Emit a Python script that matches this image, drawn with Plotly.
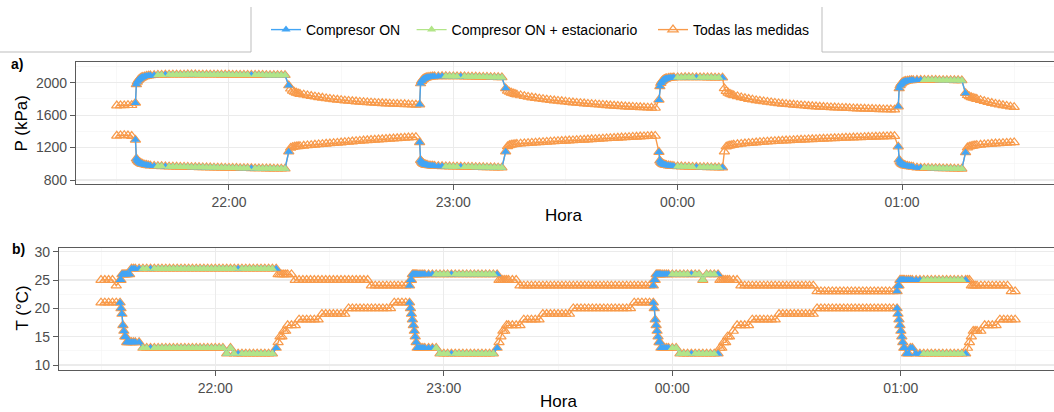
import plotly.graph_objects as go
from datetime import datetime, timedelta

# ---------------- data (minutes after 21:30) ----------------
minutos = [
    0, 1, 2, 3, 4,
    5, 5.25, 5.5, 5.75, 6, 6.25, 6.5, 6.75, 7, 7.5, 8, 8.5, 9,
    10, 11, 12, 13, 14, 15, 16, 17, 18, 19,
    20, 21, 22, 23, 24, 25, 26, 27, 28, 29,
    30, 31, 32, 33, 34, 35, 36, 37, 38, 39,
    40, 41, 42, 43, 44, 45, 46,
    46.5, 47, 47.5, 48, 48.5, 49,
    50, 51, 52, 53, 54, 55, 56, 57, 58, 59,
    60, 61, 62, 63, 64, 65, 66, 67, 68, 69,
    70, 71, 72, 73, 74, 75, 76, 77, 78, 79,
    80,
    81, 81.25, 81.5, 81.75, 82, 82.25, 82.5, 82.75, 83, 83.5, 84, 84.5, 85,
    86, 87, 88, 89, 90, 91, 92, 93, 94, 95,
    96, 97, 98, 99, 100, 101, 102, 103, 104,
    104.5, 105, 105.5, 106, 106.5, 107,
    108, 109, 110, 111, 112, 113, 114, 115, 116, 117,
    118, 119, 120, 121, 122, 123, 124, 125, 126, 127,
    128, 129, 130, 131, 132, 133, 134, 135, 136, 137,
    138, 139, 140, 141, 142, 143, 144,
    145, 145.25, 145.5, 145.75, 146, 146.25, 146.5, 146.75, 147, 147.5, 148, 148.5, 149,
    150, 151, 152, 153, 154, 155, 156, 157, 158, 159, 160, 161, 162,
    162.5, 163, 163.5, 164, 164.5, 165,
    166, 167, 168, 169, 170, 171, 172, 173, 174, 175,
    176, 177, 178, 179, 180, 181, 182, 183, 184, 185,
    186, 187, 188, 189, 190, 191, 192, 193, 194, 195,
    196, 197, 198, 199, 200, 201, 202, 203, 204, 205,
    206, 207, 208,
    209, 209.25, 209.5, 209.75, 210, 210.25, 210.5, 210.75, 211, 211.5, 212, 212.5, 213,
    214, 215, 216, 217, 218, 219, 220, 221, 222, 223, 224, 225, 226, 227,
    227.5, 228, 228.5, 229, 229.5, 230,
    231, 232, 233, 234, 235, 236, 237, 238, 239, 240,
]

p_alta = [
    1718, 1720, 1720, 1722, 1722,
    1750, 1980, 2010, 2030, 2043, 2053, 2060, 2066, 2071, 2078, 2083, 2087, 2090,
    2093, 2095, 2096, 2097, 2098, 2098, 2099, 2099, 2099, 2100,
    2100, 2100, 2099, 2099, 2099, 2098, 2098, 2098, 2097, 2097,
    2097, 2096, 2096, 2096, 2095, 2095, 2095, 2094, 2094, 2094,
    2093, 2093, 2093, 2092, 2092, 2092, 1965,
    1925, 1900, 1885, 1875, 1867, 1860,
    1852, 1843, 1835, 1827, 1820, 1813, 1806, 1800, 1794, 1789,
    1784, 1779, 1775, 1771, 1767, 1763, 1760, 1757, 1754, 1751,
    1748, 1746, 1743, 1741, 1739, 1737, 1735, 1733, 1731, 1729,
    1727,
    1730, 1990, 2020, 2035, 2045, 2052, 2058, 2062, 2066, 2070, 2073, 2075, 2077,
    2078, 2079, 2079, 2078, 2078, 2077, 2076, 2075, 2074, 2073,
    2072, 2071, 2070, 2069, 2068, 2067, 2066, 2065, 1930,
    1900, 1885, 1875, 1867, 1860, 1853,
    1842, 1833, 1825, 1817, 1810, 1803, 1797, 1791, 1785, 1780,
    1775, 1770, 1765, 1760, 1755, 1751, 1747, 1743, 1739, 1735,
    1732, 1728, 1725, 1721, 1718, 1715, 1712, 1709, 1706, 1703,
    1701, 1698, 1696, 1694, 1692, 1690, 1688,
    1787, 1955, 1995, 2015, 2028, 2037, 2043, 2048, 2052, 2057, 2060, 2062, 2064,
    2065, 2065, 2066, 2066, 2065, 2065, 2064, 2064, 2063, 2063, 2062, 2062, 2061,
    1930, 1895, 1875, 1862, 1852, 1843,
    1830, 1818, 1808, 1798, 1790, 1782, 1775, 1768, 1762, 1756,
    1750, 1745, 1740, 1735, 1731, 1727, 1723, 1719, 1716, 1712,
    1709, 1706, 1703, 1700, 1698, 1695, 1693, 1691, 1689, 1687,
    1685, 1683, 1681, 1679, 1678, 1676, 1675, 1673, 1672, 1671,
    1670, 1669, 1668,
    1705, 1930, 1965, 1985, 1998, 2006, 2012, 2016, 2020, 2024, 2027, 2029, 2031,
    2032, 2033, 2033, 2033, 2032, 2032, 2031, 2031, 2030, 2030, 2029, 2029, 2028, 1870,
    1845, 1830, 1820, 1812, 1805, 1798,
    1785, 1772, 1760, 1749, 1739, 1730, 1721, 1713, 1705, 1698,
]

p_baja = [
    1345, 1350, 1352, 1348, 1342,
    1295, 1065, 1045, 1030, 1020, 1012, 1005, 1000, 995, 989, 984, 980, 977,
    974, 971, 969, 967, 965, 964, 963, 962, 961, 960,
    959, 958, 957, 956, 955, 954, 953, 952, 951, 950,
    949, 948, 947, 946, 946, 945, 944, 943, 943, 942,
    941, 941, 940, 940, 939, 939, 1150,
    1195, 1205, 1210, 1213, 1216, 1218,
    1222, 1226, 1230, 1234, 1238, 1242, 1246, 1250, 1254, 1258,
    1262, 1266, 1270, 1274, 1278, 1282, 1286, 1290, 1293, 1296,
    1299, 1302, 1305, 1308, 1311, 1314, 1317, 1320, 1323, 1326,
    1329,
    1265, 1045, 1025, 1012, 1003, 996, 991, 987, 984, 980, 977, 975, 973,
    971, 969, 968, 966, 965, 964, 963, 962, 961, 960,
    959, 958, 957, 956, 955, 954, 953, 952, 1150,
    1215, 1228, 1234, 1238, 1241, 1244,
    1248, 1251, 1254, 1257, 1260, 1263, 1266, 1269, 1272, 1275,
    1278, 1280, 1283, 1286, 1288, 1291, 1294, 1296, 1299, 1302,
    1304, 1307, 1309, 1312, 1315, 1317, 1320, 1323, 1325, 1328,
    1331, 1333, 1336, 1338, 1340, 1342, 1344,
    1145, 1040, 1020, 1008, 1000, 994, 989, 985, 982, 978, 975, 972, 970,
    968, 966, 964, 963, 962, 960, 959, 958, 957, 956, 955, 954, 953,
    1150, 1212, 1220, 1225, 1229, 1234,
    1240, 1245, 1250, 1254, 1258, 1262, 1266, 1269, 1272, 1275,
    1278, 1281, 1284, 1286, 1289, 1291, 1294, 1296, 1298, 1300,
    1302, 1304, 1306, 1308, 1310, 1312, 1314, 1316, 1318, 1320,
    1321, 1323, 1325, 1326, 1328, 1330, 1331, 1333, 1334, 1336,
    1337, 1339, 1340,
    1212, 1050, 1025, 1010, 1000, 992, 986, 981, 977, 972, 968, 965, 962,
    952, 950, 948, 947, 946, 945, 944, 943, 942, 941, 940, 939, 938, 1140,
    1200, 1212, 1218, 1222, 1226, 1229,
    1234, 1238, 1242, 1246, 1249, 1252, 1255, 1258, 1261, 1264,
]

t_alta = [
    25, 25, 25, 25, 24,
    25, 25, 26, 26, 26, 26, 26, 26, 26, 26, 27, 27, 27,
    27, 27, 27, 27, 27, 27, 27, 27, 27, 27,
    27, 27, 27, 27, 27, 27, 27, 27, 27, 27,
    27, 27, 27, 27, 27, 27, 27, 27, 27, 27,
    27, 27, 27, 27, 27, 27, 27,
    26, 26, 26, 26, 26, 26,
    26, 25, 25, 25, 25, 25, 25, 25, 25, 25,
    25, 25, 25, 25, 25, 25, 25, 25, 25, 25,
    25, 24, 24, 24, 24, 24, 24, 24, 24, 24,
    24,
    24, 25, 25, 26, 26, 26, 26, 26, 26, 26, 26, 26, 26,
    26, 26, 26, 26, 26, 26, 26, 26, 26, 26,
    26, 26, 26, 26, 26, 26, 26, 26, 26,
    25, 25, 25, 25, 25, 25,
    25, 25, 24, 24, 24, 24, 24, 24, 24, 24,
    24, 24, 24, 24, 24, 24, 24, 24, 24, 24,
    24, 24, 24, 24, 24, 24, 24, 24, 24, 24,
    24, 24, 24, 24, 24, 24, 24,
    24, 25, 25, 26, 26, 26, 26, 26, 26, 26, 26, 26, 26,
    26, 26, 26, 26, 26, 26, 26, 26, 25, 26, 26, 26, 26,
    25, 25, 25, 25, 25, 25,
    25, 25, 24, 24, 24, 24, 24, 24, 24, 24,
    24, 24, 24, 24, 24, 24, 24, 24, 24, 24,
    24, 24, 23, 23, 23, 23, 23, 23, 23, 23,
    23, 23, 23, 23, 23, 23, 23, 23, 23, 23,
    23, 23, 23,
    23, 24, 24, 25, 25, 25, 25, 25, 25, 25, 25, 25, 25,
    25, 25, 25, 25, 25, 25, 25, 25, 25, 25, 25, 25, 25, 25,
    25, 25, 24, 24, 24, 24,
    24, 24, 24, 24, 24, 24, 24, 24, 23, 23,
]

t_baja = [
    21, 21, 21, 21, 21,
    21, 20, 19, 17, 16, 15, 15, 14, 14, 14, 14, 14, 14,
    14, 13, 13, 13, 13, 13, 13, 13, 13, 13,
    13, 13, 13, 13, 13, 13, 13, 13, 13, 13,
    13, 13, 13, 12, 13, 12, 12, 12, 12, 12,
    12, 12, 12, 12, 12, 12, 13,
    14, 15, 15, 16, 16, 17,
    17, 17, 18, 18, 18, 18, 18, 18, 19, 19,
    19, 19, 19, 19, 19, 20, 20, 20, 20, 20,
    20, 20, 20, 20, 20, 20, 20, 21, 21, 21,
    21,
    21, 20, 19, 18, 17, 16, 15, 14, 13, 13, 13, 13, 13,
    13, 13, 13, 12, 12, 12, 12, 12, 12, 12,
    12, 12, 12, 12, 12, 12, 12, 12, 13,
    14, 15, 16, 16, 17, 17,
    17, 17, 17, 18, 18, 18, 18, 18, 19, 19,
    19, 19, 19, 19, 19, 19, 20, 20, 20, 20,
    20, 20, 20, 20, 20, 20, 20, 20, 20, 20,
    20, 20, 21, 21, 21, 21, 21,
    21, 20, 18, 17, 16, 15, 14, 14, 13, 13, 13, 13, 13,
    13, 13, 12, 12, 12, 12, 12, 12, 12, 12, 12, 12, 12,
    13, 13, 14, 14, 15, 15,
    16, 17, 17, 17, 17, 18, 18, 18, 18, 18,
    18, 18, 19, 19, 19, 19, 19, 19, 19, 19,
    19, 19, 20, 20, 20, 20, 20, 20, 20, 20,
    20, 20, 20, 20, 20, 20, 20, 20, 20, 20,
    20, 20, 20,
    20, 19, 18, 17, 16, 15, 14, 13, 13, 12, 12, 13, 13,
    12, 12, 12, 12, 12, 12, 12, 12, 12, 12, 12, 12, 12, 12,
    13, 14, 15, 16, 16, 16,
    16, 17, 17, 17, 17, 18, 18, 18, 18, 18,
]

# compressor ON periods and steady-state periods (minutes after 21:30)
periodos_on = [(5, 46), (81, 104), (145, 162), (209, 227)]
periodos_est = [(11, 45), (88, 103), (150, 161), (216, 226)]
no_estacionario = [13, 36, 92, 155]

etiquetas_hora = ["22:00", "23:00", "00:00", "01:00"]
minutos_hora = [30, 90, 150, 210]
minutos_media_hora = [0, 60, 120, 180, 240]

n = len(minutos)
assert all(len(s) == n for s in (p_alta, p_baja, t_alta, t_baja)), \
    [len(s) for s in (minutos, p_alta, p_baja, t_alta, t_baja)]

inicio = datetime(2021, 3, 1, 21, 30)
def hhmm(m):
    return inicio + timedelta(minutes=m)

hora = [hhmm(m) for m in minutos]

def dentro(periodos, m):
    return any(a <= m <= b for a, b in periodos)

on = [dentro(periodos_on, m) for m in minutos]
est = [dentro(periodos_est, m) and m not in no_estacionario for m in minutos]

def filtra(vals, flags):
    return [v if f else None for v, f in zip(vals, flags)]

AZUL = "#42A5F5"
VERDE = "#B2E588"
NARANJA = "#F89A4A"
FONT = "Liberation Sans, Arial, sans-serif"
MS = 8

fig = go.Figure()

def add_series(y_vals, xa, ya, showleg):
    fig.add_trace(go.Scatter(
        x=hora, y=y_vals, mode="lines+markers", xaxis=xa, yaxis=ya,
        name="Todas las medidas", legendgroup="todas", legend="legend3",
        showlegend=showleg,
        line=dict(color=NARANJA, width=1.4),
        marker=dict(symbol="triangle-up-open", size=MS + 1, color=NARANJA,
                    line=dict(width=1.2, color=NARANJA))))
    fig.add_trace(go.Scatter(
        x=hora, y=filtra(y_vals, on), mode="lines+markers", xaxis=xa, yaxis=ya,
        name="Compresor ON", legendgroup="on", legend="legend",
        showlegend=showleg, connectgaps=False,
        line=dict(color=AZUL, width=1.4),
        marker=dict(symbol="triangle-up", size=MS, color=AZUL)))
    fig.add_trace(go.Scatter(
        x=hora, y=filtra(y_vals, est), mode="lines+markers", xaxis=xa, yaxis=ya,
        name="Compresor ON + estacionario", legendgroup="est", legend="legend2",
        showlegend=showleg, connectgaps=False,
        line=dict(color=VERDE, width=1.4),
        marker=dict(symbol="triangle-up", size=MS, color=VERDE)))

add_series(p_alta, "x", "y", True)
add_series(p_baja, "x", "y", False)
add_series(t_alta, "x2", "y2", False)
add_series(t_baja, "x2", "y2", False)

W, H = 1054, 412
def px(x):
    return x / W
def py(y):
    return 1 - y / H

GRID = "#EBEBEB"
GRID_MINOR = "#F4F4F4"
LINE = "#5A5A5A"
TICKC = "#4D4D4D"

def xaxis_cfg(dom, r0, r1):
    return dict(
        domain=dom, type="date",
        range=[hhmm(r0), hhmm(r1)],
        tickmode="array", tickvals=[hhmm(m) for m in minutos_hora],
        ticktext=etiquetas_hora,
        showgrid=True, gridcolor=GRID, gridwidth=1.1,
        minor=dict(tickmode="array", tickvals=[hhmm(m) for m in minutos_media_hora],
                   showgrid=True, gridcolor=GRID_MINOR, gridwidth=0.6, ticklen=0),
        showline=True, mirror=True, linecolor=LINE, linewidth=1.1,
        ticks="outside", ticklen=5, tickcolor=LINE, tickwidth=1,
        tickfont=dict(family=FONT, size=14, color=TICKC),
        zeroline=False, fixedrange=True, automargin=False,
    )

def yaxis_cfg(dom, rng, major, minor):
    return dict(
        domain=dom, range=rng,
        tickmode="array", tickvals=major, ticktext=[str(v) for v in major],
        showgrid=True, gridcolor=GRID, gridwidth=1.1,
        minor=dict(tickmode="array", tickvals=minor, showgrid=True,
                   gridcolor=GRID_MINOR, gridwidth=0.6, ticklen=0),
        showline=True, mirror=False, linecolor=LINE, linewidth=1.1,
        ticks="outside", ticklen=5, tickcolor=LINE, tickwidth=1,
        tickfont=dict(family=FONT, size=14, color=TICKC),
        zeroline=False, fixedrange=True, automargin=False,
    )

p_ticks = [800, 1200, 1600, 2000]
p_minor = [1000, 1400, 1800, 2200]
t_ticks = [10, 15, 20, 25, 30]
t_minor = [12.5, 17.5, 22.5, 27.5]

def leg(x_text):
    return dict(orientation="h", x=px(x_text - 40), xanchor="left", y=py(30),
                yanchor="middle", font=dict(family=FONT, size=14, color="black"),
                bgcolor="rgba(0,0,0,0)", itemwidth=30)

fig.update_layout(
    width=W, height=H,
    margin=dict(l=0, r=0, t=0, b=0, autoexpand=False),
    paper_bgcolor="white", plot_bgcolor="white",
    font=dict(family=FONT, size=14, color="black"),
    xaxis=xaxis_cfg([px(76), 1.0], -10.9, 250.65),
    yaxis=yaxis_cfg([py(184), py(62)], [751, 2255], p_ticks, p_minor),
    xaxis2=xaxis_cfg([px(59), 1.0], -11.03, 250.2),
    yaxis2=yaxis_cfg([py(370), py(248.3)], [9.12, 30.6], t_ticks, t_minor),
    showlegend=True,
    legend=leg(306),
    legend2=leg(451.6),
    legend3=leg(693),
)
fig.update_layout(yaxis2_anchor="x2", xaxis2_anchor="y2")

ann = [
    dict(text="<b>a)</b>", x=px(17), y=py(64), size=14),
    dict(text="<b>b)</b>", x=px(18), y=py(249), size=14),
    dict(text="Hora", x=px(563), y=py(215), size=17),
    dict(text="Hora", x=px(558), y=py(401), size=17),
]
for a in ann:
    fig.add_annotation(text=a["text"], x=a["x"], y=a["y"], xref="paper", yref="paper",
                       xanchor="center", yanchor="middle", showarrow=False,
                       font=dict(family=FONT, size=a["size"], color="black"))
for txt, yy in (("P (kPa)", 124), ("T (°C)", 308)):
    fig.add_annotation(text=txt, x=px(21.5), y=py(yy), xref="paper", yref="paper",
                       xanchor="center", yanchor="middle", showarrow=False, textangle=-90,
                       font=dict(family=FONT, size=17, color="black"))

# legend frame (tab shape)
FRAME = "#BDBDBD"
fig.add_shape(type="path", xref="paper", yref="paper",
              path=f"M 0,{py(52)} L {px(251)},{py(52)} L {px(251)},{py(7)}",
              line=dict(color=FRAME, width=1))
fig.add_shape(type="path", xref="paper", yref="paper",
              path=f"M {px(822)},{py(7)} L {px(822)},{py(52)} L 1,{py(52)}",
              line=dict(color=FRAME, width=1))

fig.write_html(
    "out.html",
    config={"displayModeBar": False, "staticPlot": True},
    post_script="document.body.style.margin='0px';document.body.style.overflow='hidden';",
)
